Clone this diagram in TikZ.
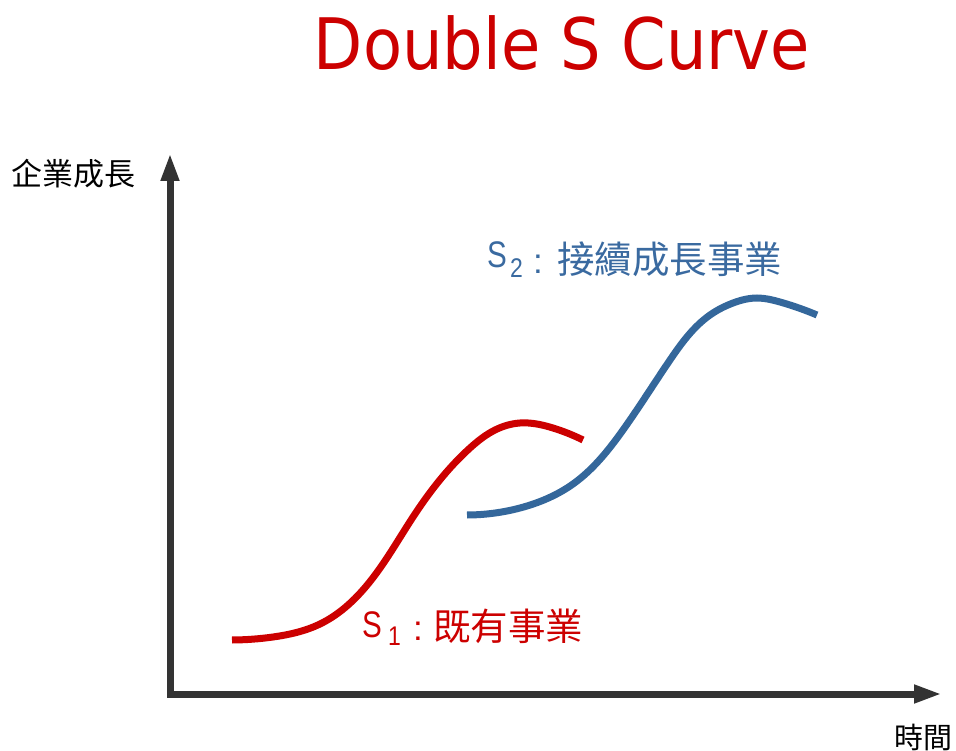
\documentclass[tikz,border=0pt]{standalone}
\usepackage{fontspec}
\setmainfont{Liberation Sans}
\newfontfamily\cjk{Noto Sans CJK TC}
\newfontfamily\titlefont{DejaVu Sans}[FakeStretch=0.9]
\usetikzlibrary{arrows.meta,hobby}
\definecolor{titlered}{RGB}{204,0,0}
\definecolor{curvered}{RGB}{204,0,0}
\definecolor{curveblue}{RGB}{52,103,155}
\definecolor{textblue}{RGB}{58,106,160}
\definecolor{axisgray}{RGB}{51,51,51}
\tikzset{
  axisline/.style={draw=axisgray, line width=7pt,
    {Triangle[length=28pt,width=17pt]}-{Triangle[length=28pt,width=17pt]}},
  curveline/.style={line width=7pt, use Hobby shortcut},
  txt/.style={inner sep=0pt, anchor=base west},
  colon/.style={inner sep=0pt, anchor=base, font=\fontsize{35}{35}\selectfont},
}
\begin{document}
\begin{tikzpicture}[x=1pt,y=-1pt]
\useasboundingbox (0,0) rectangle (956,751);
% title
\node[inner sep=0pt, anchor=base, text=titlered] (title) at (562,70)
  {\titlefont\fontsize{71}{71}\selectfont Double S Curve};
% axes
\coordinate (O) at (170,694);
\coordinate (ytip) at (170,153);
\coordinate (xtip) at (942,694);
\draw[axisline] (ytip) -- (O) -- (xtip);
\node[txt] (ylab) at (11,186) {\cjk\fontsize{31}{31}\selectfont 企業成長};
\node[txt] (xlab) at (894,748) {\cjk\fontsize{29}{29}\selectfont 時間};
% red curve S1
\draw[curveline, draw=curvered] (232,640) .. (273,637) .. (320,624)
  .. (372,579) .. (413,517) .. (470,448) .. (495,430) .. (520,423)
  .. (553,428) .. (583,440);
% blue curve S2
\draw[curveline, draw=curveblue] (467,515) .. (520,508) .. (573,484)
  .. (623,430) .. (670,360) .. (710,315) .. (733,303) .. (757,298)
  .. (780,302) .. (817,315);
% labels
\node[txt, text=curvered] (s1S) at (362,637)
  {\fontsize{37}{37}\selectfont\scalebox{0.8}[1]{S}};
\node[txt, text=curvered] (s1sub) at (388,645)
  {\fontsize{27}{27}\selectfont\scalebox{0.85}[1]{1}};
\node[colon, text=curvered] (s1col) at (418,640) {:};
\node[txt, text=curvered] (s1txt) at (433,640)
  {\cjk\fontsize{37.5}{37.5}\selectfont 既有事業};
\node[txt, text=textblue] (s2S) at (487,268)
  {\fontsize{37}{37}\selectfont\scalebox{0.8}[1]{S}};
\node[txt, text=textblue] (s2sub) at (510,278)
  {\fontsize{27}{27}\selectfont\scalebox{0.85}[1]{2}};
\node[colon, text=textblue] (s2col) at (538,274) {:};
\node[txt, text=textblue] (s2txt) at (557,274)
  {\cjk\fontsize{37.5}{37.5}\selectfont 接續成長事業};
\end{tikzpicture}
\end{document}
